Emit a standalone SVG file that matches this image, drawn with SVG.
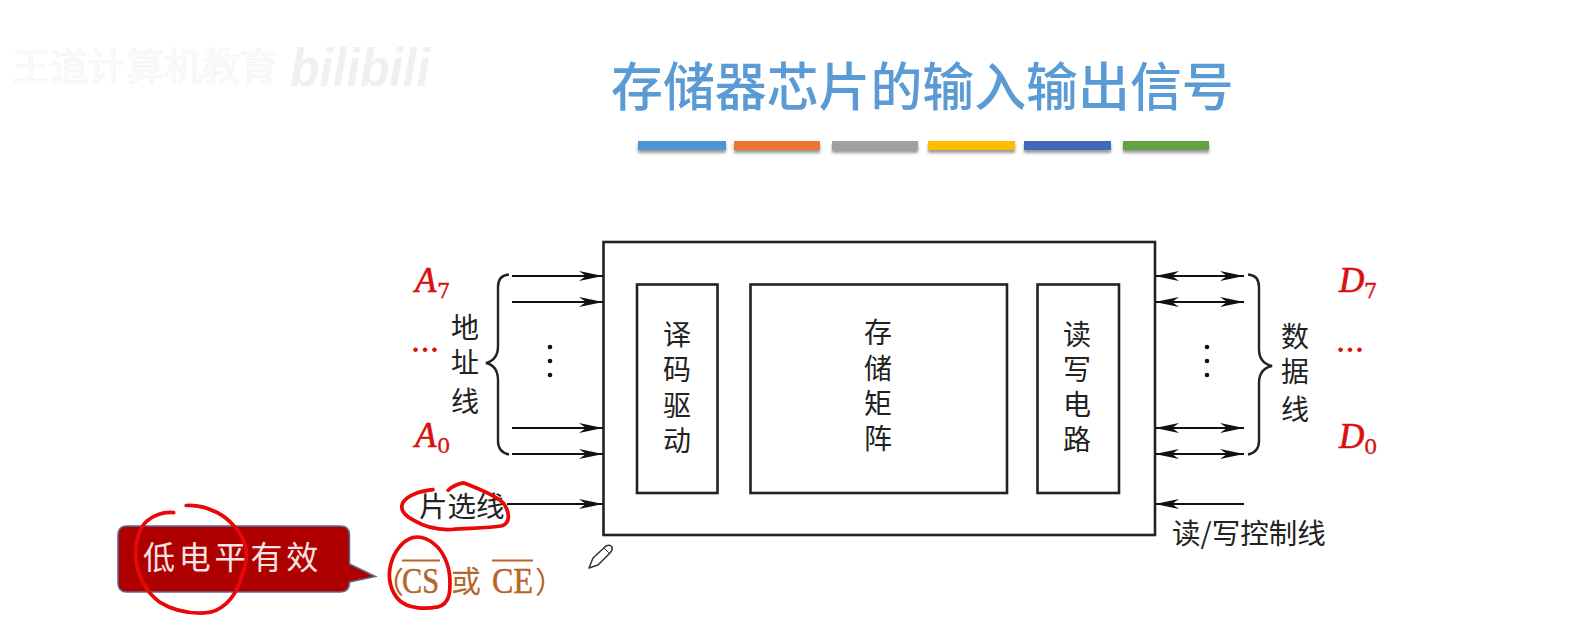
<svg xmlns="http://www.w3.org/2000/svg" width="1576" height="624" viewBox="0 0 1576 624">
<defs>
<marker id="ah" markerUnits="userSpaceOnUse" markerWidth="25" markerHeight="12" refX="24" refY="6" orient="auto-start-reverse"><path d="M0 1L24 6L0 11L7 6Z" fill="#111"/></marker>
<filter id="sh" x="-5%" y="-30%" width="110%" height="190%"><feDropShadow dx="0" dy="3" stdDeviation="1.5" flood-color="#000" flood-opacity=".4"/></filter>
</defs>
<style>
text{font-family:"Noto Sans CJK SC",sans-serif}
.box{fill:none;stroke:#222;stroke-width:2.6}
.lbl{font-size:28px;fill:#222;text-anchor:middle;font-weight:400}
.wire{fill:none;stroke:#111;stroke-width:2.2}
.one{marker-end:url(#ah)}
.two{marker-start:url(#ah);marker-end:url(#ah)}
.brace{fill:none;stroke:#222;stroke-width:2.4}
.red{font-family:"Liberation Serif",serif;fill:#d81010;stroke:#d81010;stroke-width:.7;font-style:italic;font-size:35px}
.sub{font-family:"DejaVu Serif","Liberation Serif",serif;fill:#d81010;stroke:#d81010;stroke-width:.3;font-size:21px}
.dots{font-family:"Liberation Serif",serif;fill:#d81010;font-size:28px;font-weight:bold}
.ink{fill:none;stroke:#e80808;stroke-width:11;stroke-linecap:round;stroke-linejoin:round}
.cs{font-family:"Liberation Serif",serif;fill:#b5652a;stroke:#b5652a;stroke-width:.5;font-size:36px}
.csz{font-family:"Noto Sans CJK SC",sans-serif;fill:#b5652a;font-size:30px;font-weight:400}
</style>
<rect width="1576" height="624" fill="#fff"/>

<g id="watermark">
<text x="12" y="80" font-size="38" fill="#fbfbfb" stroke="#f2f2f2" stroke-width=".6">王道计算机教育</text>
<text x="290" y="86" font-size="54" font-weight="700" font-style="italic" fill="#f0f0f0" style="font-family:'Liberation Sans',sans-serif" textLength="140" lengthAdjust="spacingAndGlyphs">bilibili</text>
</g>

<g id="title">
<text x="611" y="106" font-size="51.900" fill="#5b9bd5" font-weight="500">存储器芯片的输入输出信号</text>
<g filter="url(#sh)">
<rect x="638" y="141" width="88" height="9" fill="#4f93d2"/>
<rect x="734" y="141" width="86" height="9" fill="#ed7530"/>
<rect x="832" y="141" width="86" height="9" fill="#a0a0a0"/>
<rect x="928" y="141" width="87" height="9" fill="#ffbb00"/>
<rect x="1024" y="141" width="87" height="9" fill="#3f68bb"/>
<rect x="1123" y="141" width="86" height="9" fill="#64a23f"/>
</g>
</g>

<g id="chip"><rect class="box" x="603.500" y="242" width="551.500" height="293"/></g>

<g id="decoder"><rect class="box" x="637" y="284.500" width="80.500" height="208.500"/>
<text class="lbl"><tspan x="677" y="345">译</tspan><tspan x="677" y="380">码</tspan><tspan x="677" y="416">驱</tspan><tspan x="677" y="451">动</tspan></text></g>

<g id="matrix"><rect class="box" x="750.500" y="284.500" width="256.500" height="208.500"/>
<text class="lbl"><tspan x="878" y="343">存</tspan><tspan x="878" y="379">储</tspan><tspan x="878" y="414">矩</tspan><tspan x="878" y="449">阵</tspan></text></g>

<g id="rw"><rect class="box" x="1037.500" y="284.500" width="81.500" height="208.500"/>
<text class="lbl"><tspan x="1077" y="345">读</tspan><tspan x="1077" y="380">写</tspan><tspan x="1077" y="415">电</tspan><tspan x="1077" y="450">路</tspan></text></g>

<g id="connectors">
<path class="wire one" d="M512 276H603"/>
<path class="wire one" d="M512 302H603"/>
<path class="wire one" d="M512 428H603"/>
<path class="wire one" d="M512 454H603"/>
<path class="wire one" d="M507 504H603"/>
<path class="wire two" d="M1155 276H1244"/>
<path class="wire two" d="M1155 302H1244"/>
<path class="wire two" d="M1155 428H1244"/>
<path class="wire two" d="M1155 454H1244"/>
<path class="wire one" d="M1244 504H1155"/>
</g>

<g id="address-lines">
<path class="brace" d="M509 274.500C502 275 498 279 498 287V346C498 355 494 361 486 363C494 365 498 371 498 380V441C498 449 502 453 509 454.500"/>
<circle cx="550" cy="347" r="2.300" fill="#111"/><circle cx="550" cy="361" r="2.300" fill="#111"/><circle cx="550" cy="375" r="2.300" fill="#111"/>
<text class="lbl"><tspan x="465" y="338">地</tspan><tspan x="465" y="373">址</tspan><tspan x="465" y="412">线</tspan></text>
<text class="red" x="415" y="292">A</text><text class="sub" x="437" y="298">7</text>
<text class="dots" x="411" y="352">…</text>
<text class="red" x="415" y="447">A</text><text class="sub" x="437" y="453">0</text>
</g>

<g id="data-lines">
<path class="brace" d="M1248 274.500C1255 275 1259 279 1259 287V349C1259 358 1263 364 1272 366C1263 368 1259 374 1259 383V441C1259 449 1255 453 1248 454.500"/>
<circle cx="1207" cy="347" r="2.300" fill="#111"/><circle cx="1207" cy="361" r="2.300" fill="#111"/><circle cx="1207" cy="375" r="2.300" fill="#111"/>
<text class="lbl"><tspan x="1295" y="347">数</tspan><tspan x="1295" y="382">据</tspan><tspan x="1295" y="420">线</tspan></text>
<text class="red" x="1339" y="292">D</text><text class="sub" x="1364" y="298">7</text>
<text class="dots" x="1336" y="352">…</text>
<text class="red" x="1339" y="448">D</text><text class="sub" x="1364" y="454">0</text>
</g>

<g id="chip-select"><text x="419" y="517" font-size="28.500" fill="#222">片选线</text></g>
<g id="rw-control"><text x="1172" y="544" font-size="28.500" fill="#222">读/写控制线</text></g>

<g id="callout">
<path d="M127 526H340Q349.500 526 349.500 535V564L375.500 576.500L349.500 582Q349.500 592 340 592H127Q118 592 118 583V535Q118 526 127 526Z" fill="#ae0000" stroke="#5a6a90" stroke-width="1.500"/>
<text x="143" y="569" font-size="32" fill="#f6e4e4" letter-spacing="3.800">低电平有效</text>
</g>

<g id="cs-ce">
<text class="csz" x="374" y="593">（</text>
<text class="cs" x="402" y="593" textLength="37" lengthAdjust="spacingAndGlyphs">CS</text>
<path d="M402 560.500H440M492 560.500H533" stroke="#b5652a" stroke-width="2" fill="none"/>
<text class="csz" x="451" y="592">或</text>
<text class="cs" x="492" y="593" textLength="41" lengthAdjust="spacingAndGlyphs">CE</text>
<text class="csz" x="535" y="593">）</text>
</g>

<g id="pen">
<path d="M589 568L593 558L606 546Q610 544 612 547Q613 550 610 553L598 565Z" fill="#fff" stroke="#333" stroke-width="1.500" stroke-linejoin="round"/>
<path d="M604 548L610 554" stroke="#333" stroke-width="1"/>
</g>

<g id="ink" transform="translate(100 470) scale(.338)">
<path class="ink" d="M218 126C195 124 165 130 140 150C112 175 103 220 106 260C110 310 135 360 175 390C215 415 265 425 310 423C360 420 395 380 410 340C425 300 438 265 432 235C425 190 385 145 345 125C315 110 285 103 255 105"/>
<path class="ink" d="M985 58C950 62 915 70 897 95C885 115 900 135 930 150C960 168 1000 178 1040 176C1090 172 1150 172 1190 165C1215 155 1212 125 1195 100C1175 78 1120 55 1075 38C1055 42 1040 50 1030 60"/>
<path class="ink" d="M925 200C895 210 870 240 860 280C850 320 860 360 885 385C910 410 960 412 1000 405C1035 395 1037 360 1035 320C1033 280 1015 240 990 220C970 203 945 195 925 200Z"/>
</g>
</svg>
